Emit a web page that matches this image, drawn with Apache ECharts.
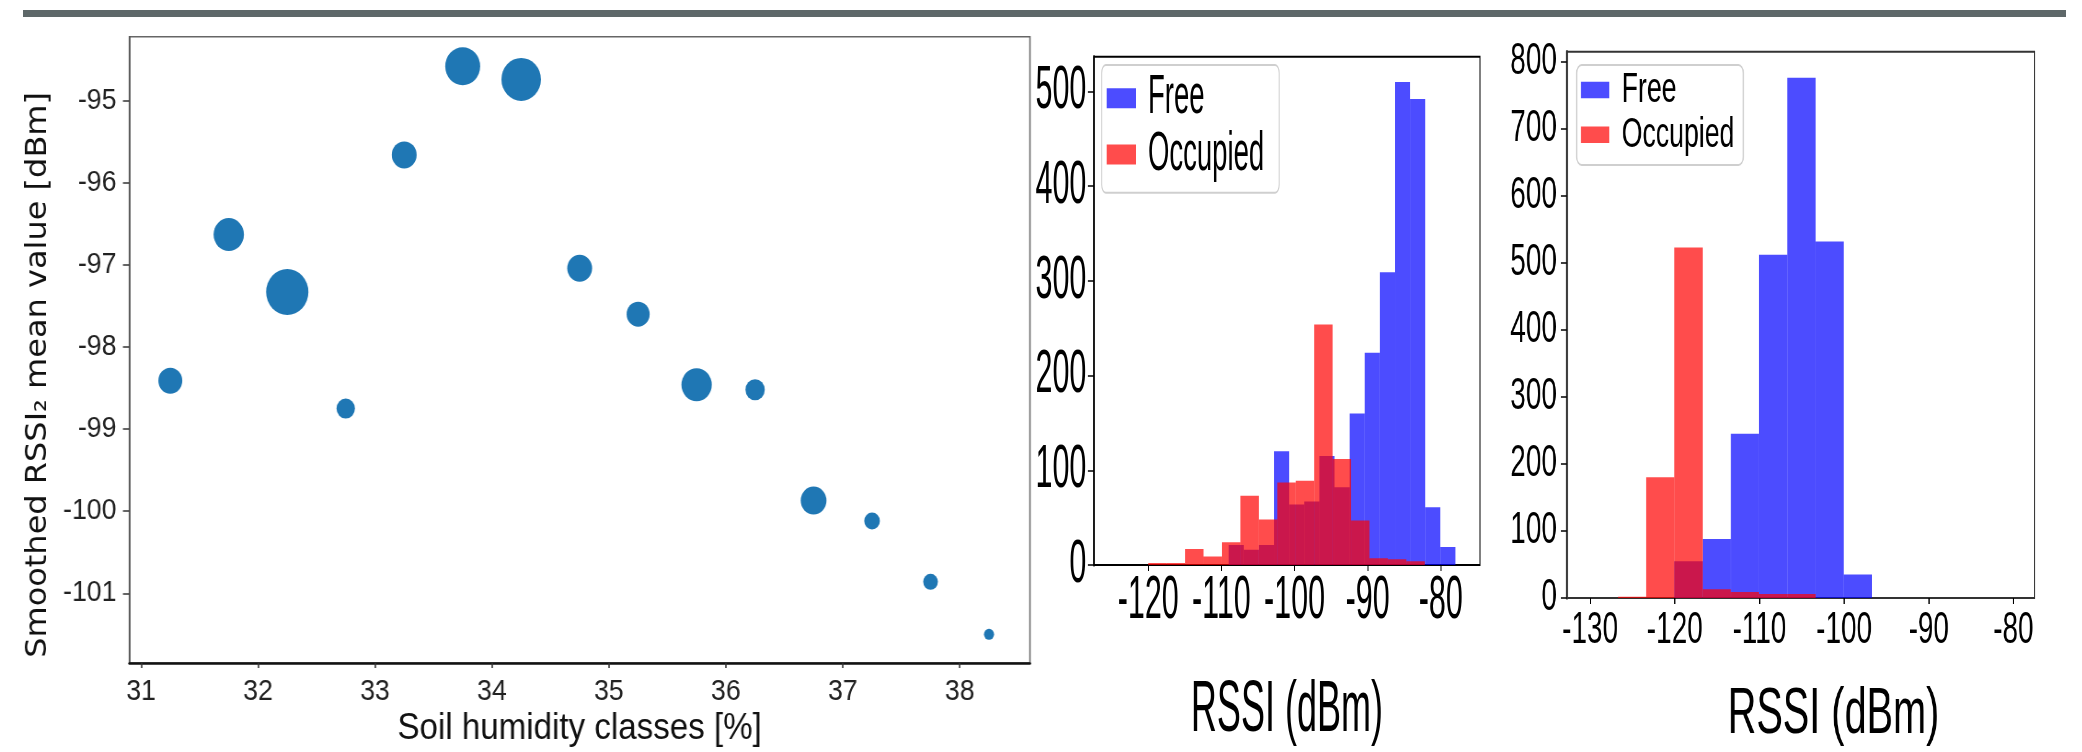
<!DOCTYPE html>
<html>
<head>
<meta charset="utf-8">
<title>Soil humidity and RSSI</title>
<script src="https://cdn.jsdelivr.net/npm/echarts@6/dist/echarts.min.js"></script>
<style>
  html, body { margin: 0; padding: 0; background: #fff; width: 2082px; height: 752px; overflow: hidden; }
  .panel { position: absolute; top: 0; height: 752px; transform-origin: 0 0; }
  #rule { position: absolute; left: 23px; top: 10px; width: 2043px; height: 7px; background: #5e6869; }
</style>
</head>
<body>
<div id="rule"></div>
<div id="scatterPanel" class="panel"></div>
<div id="histPanelA" class="panel"></div>
<div id="histPanelB" class="panel"></div>
<script>
// ---- Smoothed RSSI per soil humidity class ----
const humidityClasses = [31.25, 31.75, 32.25, 32.75, 33.25, 33.75, 34.25, 34.75, 35.25, 35.75, 36.25, 36.75, 37.25, 37.75, 38.25];
const rssiMeans = [-98.41, -96.63, -97.33, -98.75, -95.66, -94.58, -94.74, -97.04, -97.60, -98.46, -98.52, -99.87, -100.12, -100.86, -101.50];
const classWeights = [676, 1089, 2116, 400, 729, 1444, 1849, 729, 625, 1089, 441, 784, 289, 256, 121];
const humidityTicks = [31, 32, 33, 34, 35, 36, 37, 38];
const rssiMeanTicks = [-101, -100, -99, -98, -97, -96, -95];

// ---- RSSI histograms, first set ----
const setAFreeEdges = [-109.00, -106.93, -104.87, -102.80, -100.73, -98.67, -96.60, -94.53, -92.46, -90.40, -88.33, -86.26, -84.20, -82.13, -80.07, -78.00];
const setAFreeCounts = [21, 16, 21, 120, 64, 67, 115, 82, 160, 224, 309, 510, 492, 61, 19];
const setAOccupiedEdges = [-120.00, -117.48, -114.96, -112.44, -109.92, -107.40, -104.87, -102.35, -99.83, -97.31, -94.79, -92.27, -89.75, -87.23, -84.71, -82.19];
const setAOccupiedCounts = [2, 2, 17, 9, 24, 73, 48, 87, 89, 254, 112, 47, 7, 6, 4];
const setARssiTicks = [-120, -110, -100, -90, -80];
const setACountTicks = [0, 100, 200, 300, 400, 500];

// ---- RSSI histograms, second set ----
const setBFreeEdges = [-120.05, -116.71, -113.38, -110.04, -106.71, -103.37, -100.03, -96.70];
const setBFreeCounts = [55, 88, 245, 512, 776, 532, 35];
const setBOccupiedEdges = [-126.72, -123.38, -120.05, -116.71, -113.38, -110.04, -106.71, -103.37];
const setBOccupiedCounts = [2, 180, 523, 13, 9, 6, 6];
const setBRssiTicks = [-130, -120, -110, -100, -90, -80];
const setBCountTicks = [0, 100, 200, 300, 400, 500, 600, 700, 800];

const SANS = "'Liberation Sans', Arial, Helvetica, sans-serif";
const FREE_COLOR = 'rgba(0, 0, 255, 0.7)';
const OCCUPIED_COLOR = 'rgba(255, 0, 0, 0.7)';

// Each panel is laid out wide and squeezed horizontally, which gives the condensed lettering.
function mountPanel(id, left, realWidth, squeeze) {
  const el = document.getElementById(id);
  el.style.left = left + 'px';
  el.style.width = (realWidth / squeeze) + 'px';
  el.style.transform = 'scaleX(' + squeeze + ')';
  return echarts.init(el, null, { renderer: 'canvas' });
}

function binsOf(edges, counts) {
  return counts.map(function (c, i) { return [edges[i], edges[i + 1], c]; });
}

function renderBin(params, api) {
  const lo = api.coord([api.value(0), 0]);
  const hi = api.coord([api.value(1), api.value(2)]);
  return {
    type: 'rect',
    shape: { x: lo[0], y: hi[1], width: hi[0] - lo[0], height: lo[1] - hi[1] },
    style: { fill: api.visual('color') }
  };
}

function histogramSeries(name, edges, counts, color) {
  return {
    type: 'custom',
    name: name,
    renderItem: renderBin,
    data: binsOf(edges, counts),
    encode: { x: [0, 1], y: 2 },
    itemStyle: { color: color },
    clip: true,
    silent: true
  };
}

// ---------- scatter panel ----------
const scatter = mountPanel('scatterPanel', 0, 1034, 0.92);
scatter.setOption({
  animation: false,
  grid: { left: 140.6, top: 36.7, width: 978.9, height: 630, show: true, borderColor: '#666', borderWidth: 1.5, backgroundColor: 'transparent' },
  xAxis: {
    type: 'value', min: 30.9, max: 38.6,
    axisLine: { show: true, onZero: false, lineStyle: { color: '#111', width: 2.5 } },
    axisTick: { show: true, length: 5, customValues: humidityTicks, lineStyle: { color: '#333', width: 1.6 } },
    axisLabel: { customValues: humidityTicks, fontFamily: SANS, fontSize: 29, color: '#222', margin: 14 },
    splitLine: { show: false },
    name: 'Soil humidity classes [%]', nameLocation: 'middle', nameGap: 41,
    nameTextStyle: { fontFamily: SANS, fontSize: 36, color: '#111' }
  },
  yAxis: {
    type: 'value', min: -101.85, max: -94.22,
    axisLine: { show: true, onZero: false, lineStyle: { color: '#555', width: 1.6 } },
    axisTick: { show: true, length: 7, customValues: rssiMeanTicks, lineStyle: { color: '#333', width: 1.5 } },
    axisLabel: { customValues: rssiMeanTicks, fontFamily: SANS, fontSize: 29, color: '#222', margin: 14 },
    splitLine: { show: false },
    name: 'Smoothed RSSI\u2082 mean value [dBm]', nameLocation: 'middle', nameGap: 72, nameRotate: 90,
    nameTextStyle: { fontFamily: 'DejaVu Sans', fontSize: 32, color: '#111', padding: [0, 50, 0, 0] }
  },
  series: [{
    type: 'scatter',
    data: humidityClasses.map(function (x, i) { return [x, rssiMeans[i], classWeights[i]]; }),
    symbolSize: function (v) { return Math.sqrt(v[2]); },
    itemStyle: { color: '#1f77b4', opacity: 1 },
    silent: true
  }]
});

// ---------- histogram panels ----------
function histogramOption(cfg) {
  return {
    animation: false,
    grid: { left: cfg.grid[0], top: cfg.grid[1], width: cfg.grid[2], height: cfg.grid[3], show: true, borderColor: cfg.frame, borderWidth: 2, backgroundColor: 'transparent' },
    legend: {
      data: ['Free', 'Occupied'],
      orient: 'vertical', icon: 'rect',
      left: cfg.legend.left, top: cfg.legend.top,
      itemWidth: cfg.legend.itemWidth, itemHeight: cfg.legend.itemHeight, itemGap: cfg.legend.itemGap,
      padding: cfg.legend.padding,
      backgroundColor: 'rgba(255,255,255,0.85)', borderColor: '#cfcfcf', borderWidth: 2, borderRadius: 8,
      textStyle: { fontFamily: SANS, fontSize: cfg.legend.fontSize, color: '#000', padding: [0, 0, 0, cfg.legend.textGap] },
      selectedMode: false
    },
    xAxis: {
      type: 'value', min: cfg.xRange[0], max: cfg.xRange[1],
      axisLine: { show: true, onZero: false, lineStyle: { color: cfg.frame, width: 2 } },
      axisTick: { show: true, length: 6, customValues: cfg.xTicks, lineStyle: { color: '#000', width: 2 } },
      axisLabel: { customValues: cfg.xTicks, fontFamily: SANS, fontSize: cfg.tickFont, color: '#000', margin: cfg.xLabelMargin },
      splitLine: { show: false },
      name: 'RSSI (dBm)', nameLocation: 'middle', nameGap: cfg.nameGap,
      nameTextStyle: { fontFamily: SANS, fontSize: cfg.nameFont, color: '#000', padding: cfg.namePadding }
    },
    yAxis: {
      type: 'value', min: 0, max: cfg.yMax,
      axisLine: { show: true, onZero: false, lineStyle: { color: cfg.frame, width: 3.5 } },
      axisTick: { show: true, length: cfg.yTickLength, customValues: cfg.yTicks, lineStyle: { color: '#000', width: 1.5 } },
      axisLabel: { customValues: cfg.yTicks, fontFamily: SANS, fontSize: cfg.tickFont, color: '#000', margin: cfg.yLabelMargin },
      splitLine: { show: false }
    },
    series: [
      histogramSeries('Free', cfg.free[0], cfg.free[1], FREE_COLOR),
      histogramSeries('Occupied', cfg.occupied[0], cfg.occupied[1], OCCUPIED_COLOR)
    ]
  };
}

const histA = mountPanel('histPanelA', 1034, 466, 0.5);
histA.setOption(histogramOption({
  grid: [118.6, 56.7, 773.4, 532.3],
  frame: '#000',
  xRange: [-127.43, -74.64], xTicks: setARssiTicks,
  yMax: 536.6, yTicks: setACountTicks,
  tickFont: 61, xLabelMargin: 6, yLabelMargin: 15, yTickLength: 12,
  nameFont: 72, nameGap: 110, namePadding: [0, 0, 0, 0],
  legend: { left: 135.4, top: 65, itemWidth: 58.6, itemHeight: 20, itemGap: 1.3, padding: [5.7, 30, 10.7, 10], fontSize: 55, textGap: 19 },
  free: [setAFreeEdges, setAFreeCounts],
  occupied: [setAOccupiedEdges, setAOccupiedCounts]
}));

const histB = mountPanel('histPanelB', 1500, 582, 0.62);
histB.setOption(histogramOption({
  grid: [107.7, 51.7, 754.4, 549.6],
  frame: '#333',
  xRange: [-132.76, -77.5], xTicks: setBRssiTicks,
  yMax: 815, yTicks: setBCountTicks,
  tickFont: 45, xLabelMargin: 10, yLabelMargin: 16, yTickLength: 9.7,
  nameFont: 64, nameGap: 85, namePadding: [0, 0, 0, 106],
  legend: { left: 123.7, top: 65, itemWidth: 45.6, itemHeight: 16.5, itemGap: 1.7, padding: [3.5, 14.5, 8.8, 7], fontSize: 43, textGap: 15 },
  free: [setBFreeEdges, setBFreeCounts],
  occupied: [setBOccupiedEdges, setBOccupiedCounts]
}));
</script>
</body>
</html>
